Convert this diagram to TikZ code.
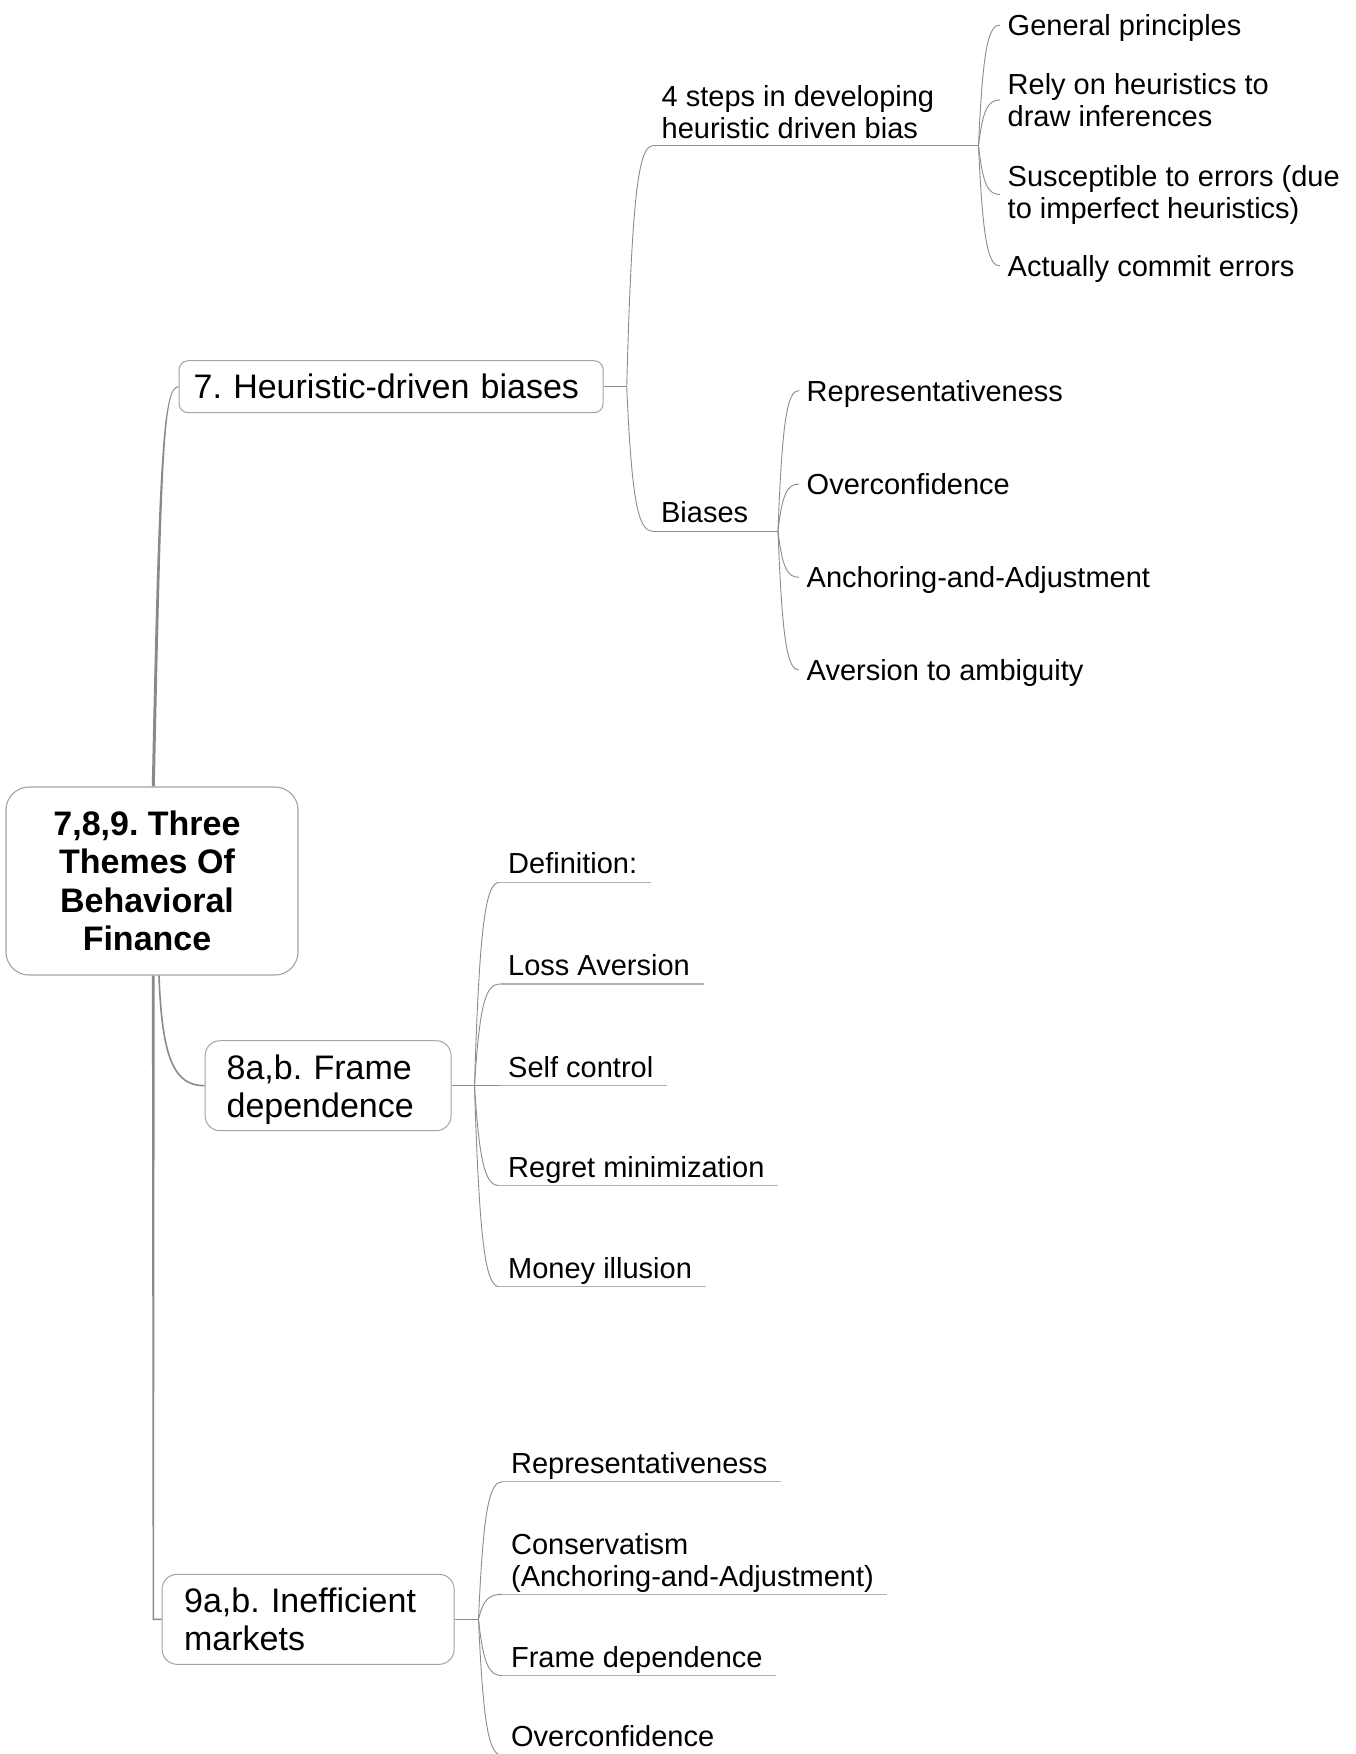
\documentclass[tikz,border=0pt]{standalone}
\usepackage{fontspec}
\setmainfont{Liberation Sans}
\usetikzlibrary{calc}
\frenchspacing
\definecolor{linkgray}{HTML}{8C8C8C}
\definecolor{trunkgray}{HTML}{8A8A8A}
\definecolor{boxgray}{HTML}{A4A4A4}
\definecolor{ulgray}{HTML}{B0B0B0}
% fixed depth below the last line of an underlined two-line label
\newcommand{\lastdepth}{\rule[-7.5pt]{0pt}{7.5pt}}
\begin{document}
\begin{tikzpicture}[x=1pt,y=-1pt,
  link/.style={draw=linkgray, line width=0.9pt},
  uline/.style={draw=ulgray, line width=1.5pt},
  trunk/.style={fill=trunkgray},
  branch/.style={to path={let \p1=(\tikztostart), \p2=(\tikztotarget) in
      .. controls ({\x1+0.2*(\x2-\x1)},{\y1+0.8*(\y2-\y1)}) and ({\x1+0.45*(\x2-\x1)},{\y2}) .. (\tikztotarget)}},
  rootbox/.style={draw=boxgray, line width=1.1pt, rounded corners=23pt, fill=white,
      minimum width=292pt, minimum height=188pt, inner sep=0pt},
  roottext/.style={align=center, inner sep=0pt, font=\fontsize{34}{38.4}\selectfont\bfseries},
  topic/.style={draw=boxgray, line width=1pt, fill=white, align=left, inner ysep=0pt,
      anchor=west, font=\fontsize{34}{38}\selectfont},
  leaf/.style={anchor=west, inner xsep=7.5pt, inner ysep=0pt, text height=21pt, text depth=0pt,
      font=\fontsize{29}{32}\selectfont},
  leafm/.style={anchor=west, inner xsep=7.5pt, inner ysep=0pt, align=left,
      font=\fontsize{29}{32}\selectfont},
  uleaf/.style={anchor=south west, inner xsep=8.5pt, inner ysep=0pt, text height=21pt,
      text depth=8.5pt, font=\fontsize{29}{32}\selectfont},
  uleafm/.style={anchor=south west, inner xsep=8.5pt, inner ysep=0pt, align=left,
      font=\fontsize{29}{32}\selectfont},
]
\fill[white] (0,0) rectangle (1356,1754);
\useasboundingbox (0,0) rectangle (1356,1754);
\clip (0,0) rectangle (1356,1754);

% central topic and the three main topics
\node[rootbox] (root) at (152,881) {};
\node[roottext] (rootlabel) at (147,881) {7,8,9. Three\\Themes Of\\Behavioral\\Finance};
\node[topic, rounded corners=9pt, text width=395pt, inner xsep=14.5pt, minimum height=52pt]
  (n7) at (178.6,386.7) {7. Heuristic-driven biases};
\node[topic, rounded corners=15pt, text width=203pt, inner xsep=21.5pt, minimum height=90pt]
  (n8) at (204.6,1085.7) {8a,b. Frame\\\smash{dependence}};
\node[topic, rounded corners=15pt, text width=248pt, inner xsep=22pt, minimum height=90pt]
  (n9) at (161.6,1619.3) {9a,b. Inefficient\\markets};

% trunk lines leaving the central topic
\coordinate (tt) at ([xshift=1.3pt]root.north);
\coordinate (tb) at ([xshift=1.3pt]root.south);
\coordinate (c9) at (tb |- n9.west);
\fill[trunk] ([shift={(-1.5,0)}]tt) .. controls ([shift={(5.5,-337)}]tt) and ([shift={(-15.5,-0.5)}]n7.west)
   .. ([shift={(0,-0.5)}]n7.west) -- ([shift={(0,0.5)}]n7.west)
   .. controls ([shift={(-14.5,0.5)}]n7.west) and ([shift={(8.5,-337)}]tt) .. ([shift={(1.5,0)}]tt) -- cycle;
\fill[trunk] ([shift={(-1.4,0)}]tb) -- ([shift={(-0.7,0.7)}]c9) -- ([shift={(0,0.7)}]n9.west)
   -- ([shift={(0,-0.7)}]n9.west) -- ([shift={(0.7,-0.7)}]c9) -- ([shift={(1.4,0)}]tb) -- cycle;
\draw[draw=trunkgray, line width=1.6pt] ([xshift=7pt]root.south) .. controls +(3,85) and +(-29.6,0) .. (n8.west);

% forks
\coordinate (f7) at (626.7,386.7);
\coordinate (f4) at (978.5,145.7);
\coordinate (fb) at (778,531);
\coordinate (f8) at (474.5,1085.7);
\coordinate (f9) at (478.5,1619.3);
\draw[link] (n7.east) -- (f7);
\draw[link] (n8.east) -- (f8);
\draw[link] (n9.east) -- (f9);

% heuristic-driven biases
\node[uleafm] (s4) at (653,145.7) {4 steps in developing\\heuristic driven bias\lastdepth};
\node[uleaf] (sb) at (652.4,531) {Biases};
\draw[link] (f7) to[branch] (s4.south west);
\draw[link] (f7) to[branch] (sb.south west);
\draw[link] (s4.south west) -- (f4);
\draw[link] (sb.south west) -- (fb);

\node[leaf] (g1) at (1000,25) {General principles};
\node[leafm] (g2) at (1000,100) {Rely on heuristics to\\draw inferences};
\node[leafm] (g3) at (1000,194.5) {Susceptible to errors (due\\to imperfect heuristics)};
\node[leaf] (g4) at (1000,266) {Actually commit errors};
\foreach \nd in {g1,g2,g3,g4} \draw[link] (f4) to[branch] (\nd.west);

\node[leaf] (b1) at (799,390.5) {Representativeness};
\node[leaf] (b2) at (799,484) {Overconfidence};
\node[leaf] (b3) at (799,577.3) {Anchoring-and-Adjustment};
\node[leaf] (b4) at (799,670) {Aversion to ambiguity};
\foreach \nd in {b1,b2,b3,b4} \draw[link] (fb) to[branch] (\nd.west);

% frame dependence
\node[uleaf] (d1) at (499.5,882.3) {Definition:};
\node[uleaf] (d2) at (499.5,984) {Loss Aversion};
\node[uleaf] (d3) at (499.5,1085.7) {Self control};
\node[uleaf] (d4) at (499.5,1185.7) {Regret minimization};
\node[uleaf] (d5) at (499.5,1286.7) {Money illusion};
\foreach \nd in {d1,d2,d3,d4,d5} {
  \draw[link] (f8) to[branch] (\nd.south west);
  \draw[uline] (\nd.south west) -- ([xshift=5pt]\nd.south east);
}

% inefficient markets
\node[uleaf] (m1) at (502.4,1481.7) {Representativeness};
\node[uleafm] (m2) at (502.4,1594.3) {Conservatism\\(Anchoring-and-Adjustment)\lastdepth};
\node[uleaf] (m3) at (502.4,1675.7) {Frame dependence};
\node[uleaf] (m4) at (502.4,1755.5) {Overconfidence};
\foreach \nd in {m1,m2,m3,m4} {
  \draw[link] (f9) to[branch] (\nd.south west);
  \draw[uline] (\nd.south west) -- ([xshift=5pt]\nd.south east);
}
\end{tikzpicture}
\end{document}
